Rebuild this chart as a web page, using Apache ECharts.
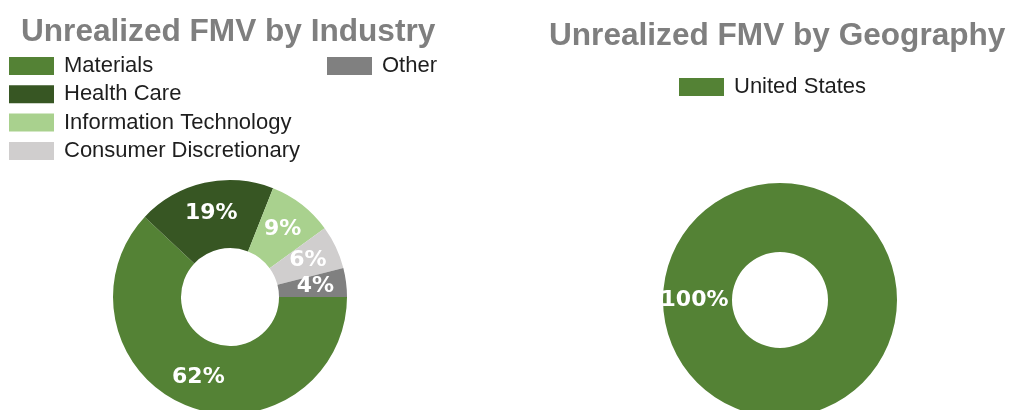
<!DOCTYPE html>
<html>
<head>
<meta charset="utf-8">
<script src="https://cdn.jsdelivr.net/npm/echarts@6/dist/echarts.min.js"></script>
<style>
  html, body { margin: 0; padding: 0; background: #fff; }
  #chart { width: 1012px; height: 410px; }
</style>
</head>
<body>
<div id="chart"></div>
<script>
// data
var industryNames = ['Materials', 'Health Care', 'Information Technology', 'Consumer Discretionary', 'Other']
var industryValues = [62, 19, 9, 6, 4]
var industryColors = ['#548235', '#375623', '#a9d18e', '#d0cece', '#808080']

var geoNames = ['United States']
var geoValues = [100]
var geoColors = ['#548235']

var titleStyle = {
  fontFamily: 'Liberation Sans, Arial, sans-serif',
  fontWeight: 'bold',
  fontSize: 31.6,
  color: '#7f7f7f'
}
var legendText = {
  fontFamily: 'Liberation Sans, Arial, sans-serif',
  fontSize: 22,
  color: '#1e1e1e',
  padding: [0, 0, 0, 5]
}
var labelStyle = {
  show: true,
  position: 'inside',
  formatter: '{c}%',
  color: '#fff',
  fontFamily: 'DejaVu Sans, sans-serif',
  fontWeight: 'bold',
  fontSize: 22
}

function toData(names, values, colors) {
  return names.map(function (n, i) {
    return { name: n, value: values[i], itemStyle: { color: colors[i] } }
  })
}

var chart = echarts.init(document.getElementById('chart'))
chart.setOption({
  animation: false,
  title: [{
    text: 'Unrealized FMV by Industry',
    left: 21,
    top: 16,
    padding: 0,
    textStyle: titleStyle
  }, {
    text: 'Unrealized FMV by Geography',
    left: 549,
    top: 20,
    padding: 0,
    textStyle: titleStyle
  }],
  legend: [{
    orient: 'vertical',
    left: 9,
    top: 55,
    padding: 0,
    icon: 'rect',
    itemWidth: 45,
    itemHeight: 18,
    itemGap: 6.3,
    selectedMode: false,
    textStyle: legendText,
    data: industryNames.slice(0, 4)
  }, {
    orient: 'vertical',
    left: 327,
    top: 55,
    padding: 0,
    icon: 'rect',
    itemWidth: 45,
    itemHeight: 18,
    selectedMode: false,
    textStyle: legendText,
    data: industryNames.slice(4)
  }, {
    orient: 'horizontal',
    left: 679,
    top: 76,
    padding: 0,
    icon: 'rect',
    itemWidth: 45,
    itemHeight: 18,
    selectedMode: false,
    textStyle: legendText,
    data: geoNames
  }],
  series: [{
    name: 'Industry',
    type: 'pie',
    center: [230, 297],
    radius: [49, 117],
    startAngle: 0,
    clockwise: true,
    label: labelStyle,
    labelLine: { show: false },
    emphasis: { disabled: true },
    itemStyle: { borderWidth: 0 },
    data: toData(industryNames, industryValues, industryColors)
  }, {
    name: 'Geography',
    type: 'pie',
    center: [780, 300],
    radius: [48, 117],
    startAngle: 0,
    clockwise: true,
    label: labelStyle,
    labelLine: { show: false },
    emphasis: { disabled: true },
    itemStyle: { borderWidth: 0 },
    data: toData(geoNames, geoValues, geoColors)
  }]
})
</script>
</body>
</html>
